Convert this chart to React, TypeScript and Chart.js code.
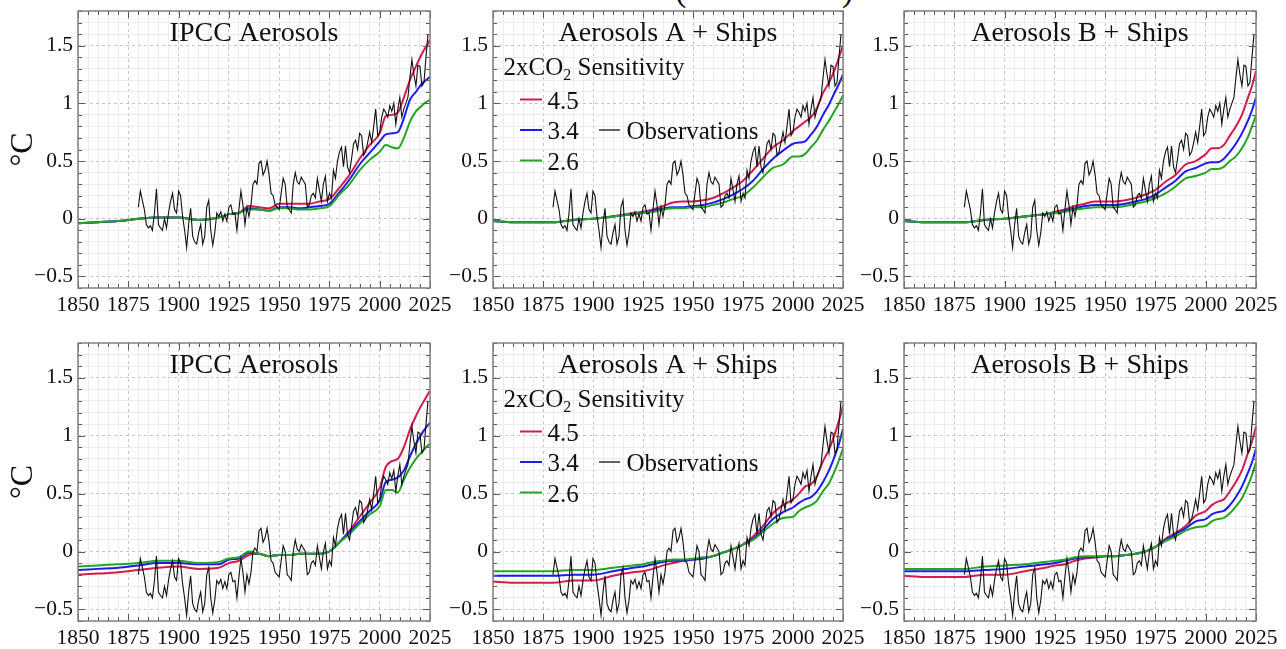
import React, { useEffect, useRef } from 'react';
import { Chart, registerables } from 'chart.js';

Chart.register(...registerables);

// ---------------- DATA ----------------
const OBS_START_YEAR = 1880;
// Observed temperature anomaly (°C), top-row baseline, one value per year 1880..2024
const OBS_TOP = [
  0.10, 0.24, 0.16, 0.08, -0.05, -0.08, -0.06, -0.10, 0.05, 0.26,
  -0.05, -0.08, -0.10, 0.00, -0.08, 0.05, 0.15, 0.22, 0.08, 0.05,
  0.24, 0.20, 0.02, -0.10, -0.25, -0.05, 0.09, -0.15, -0.20, -0.22,
  -0.12, -0.05, -0.22, -0.15, 0.10, 0.16, -0.10, -0.23, -0.12, 0.05,
  0.02, 0.06, -0.02, 0.04, -0.02, 0.10, 0.12, 0.04, 0.05, -0.10,
  0.08, 0.24, 0.12, -0.05, 0.10, 0.02, 0.12, 0.30, 0.33, 0.30,
  0.48, 0.50, 0.38, 0.42, 0.50, 0.38, 0.22, 0.20, 0.12, 0.10,
  0.08, 0.22, 0.35, 0.30, 0.10, 0.08, 0.05, 0.30, 0.40, 0.32,
  0.30, 0.36, 0.33, 0.30, 0.10, 0.12, 0.20, 0.22, 0.18, 0.35,
  0.25, 0.15, 0.30, 0.37, 0.15, 0.22, 0.18, 0.42, 0.35, 0.50,
  0.58, 0.62, 0.45, 0.63, 0.45, 0.40, 0.52, 0.65, 0.68, 0.60,
  0.74, 0.72, 0.55, 0.58, 0.66, 0.75, 0.66, 0.80, 0.95, 0.72,
  0.75, 0.88, 0.95, 0.92, 0.88, 0.98, 0.93, 1.00, 0.82, 0.95,
  1.05, 0.88, 0.95, 1.00, 1.05, 1.22, 1.38, 1.25, 1.15, 1.33,
  1.32, 1.15, 1.18, 1.40, 1.60,
];
// bottom row uses a baseline lower by 0.3 °C
const OBS_BOTTOM_SHIFT = -0.3;

const MODEL_YEARS = [1850, 1860, 1870, 1880, 1890, 1900, 1910, 1920, 1925, 1930, 1935, 1940, 1945, 1950, 1955, 1960, 1965, 1970, 1975, 1980, 1985, 1990, 1995, 2000, 2003, 2006, 2009, 2012, 2015, 2018, 2021, 2023, 2025];

// Top row
const IPCC_TOP_45 = [-0.04, -0.03, -0.02, 0.0, 0.01, 0.01, -0.01, 0.01, 0.04, 0.05, 0.11, 0.10, 0.09, 0.13, 0.13, 0.13, 0.13, 0.15, 0.17, 0.27, 0.38, 0.52, 0.64, 0.74, 0.89, 0.90, 0.92, 1.05, 1.20, 1.32, 1.43, 1.49, 1.55];
const IPCC_TOP_34 = [-0.04, -0.03, -0.02, 0.0, 0.01, 0.01, -0.01, 0.01, 0.04, 0.05, 0.09, 0.08, 0.07, 0.10, 0.10, 0.09, 0.10, 0.11, 0.13, 0.23, 0.34, 0.47, 0.57, 0.67, 0.73, 0.74, 0.75, 0.87, 1.03, 1.10, 1.17, 1.20, 1.23];
const IPCC_TOP_26 = [-0.04, -0.03, -0.02, 0.0, 0.01, 0.01, -0.01, 0.01, 0.04, 0.05, 0.08, 0.08, 0.07, 0.09, 0.09, 0.08, 0.08, 0.09, 0.11, 0.21, 0.30, 0.42, 0.51, 0.58, 0.64, 0.62, 0.61, 0.70, 0.84, 0.93, 0.98, 1.01, 1.03];
const A_TOP_45 = [-0.02, -0.03, -0.03, -0.03, -0.01, 0.0, 0.02, 0.05, 0.06, 0.08, 0.11, 0.14, 0.15, 0.15, 0.16, 0.18, 0.22, 0.27, 0.33, 0.42, 0.52, 0.62, 0.68, 0.76, 0.80, 0.84, 0.88, 0.96, 1.09, 1.18, 1.30, 1.40, 1.50];
const A_TOP_34 = [-0.02, -0.03, -0.03, -0.03, -0.01, 0.0, 0.02, 0.04, 0.05, 0.07, 0.09, 0.10, 0.10, 0.11, 0.12, 0.14, 0.17, 0.21, 0.26, 0.33, 0.43, 0.52, 0.59, 0.65, 0.66, 0.67, 0.73, 0.80, 0.90, 0.99, 1.10, 1.17, 1.25];
const A_TOP_26 = [-0.02, -0.03, -0.03, -0.03, -0.01, 0.0, 0.02, 0.04, 0.05, 0.06, 0.08, 0.09, 0.09, 0.10, 0.10, 0.12, 0.14, 0.17, 0.20, 0.27, 0.36, 0.44, 0.47, 0.54, 0.54, 0.56, 0.62, 0.68, 0.77, 0.85, 0.94, 1.00, 1.07];
const B_TOP_45 = [-0.02, -0.03, -0.03, -0.03, -0.01, 0.0, 0.02, 0.04, 0.06, 0.08, 0.11, 0.13, 0.15, 0.15, 0.15, 0.16, 0.18, 0.21, 0.25, 0.32, 0.38, 0.47, 0.50, 0.56, 0.61, 0.61, 0.64, 0.72, 0.80, 0.90, 1.05, 1.15, 1.28];
const B_TOP_34 = [-0.02, -0.03, -0.03, -0.03, -0.01, 0.0, 0.02, 0.04, 0.05, 0.07, 0.09, 0.11, 0.12, 0.12, 0.12, 0.13, 0.15, 0.17, 0.21, 0.27, 0.33, 0.41, 0.44, 0.48, 0.49, 0.49, 0.52, 0.58, 0.65, 0.74, 0.85, 0.94, 1.05];
const B_TOP_26 = [-0.02, -0.03, -0.03, -0.03, -0.01, 0.0, 0.02, 0.04, 0.05, 0.06, 0.08, 0.09, 0.10, 0.10, 0.10, 0.11, 0.13, 0.15, 0.18, 0.22, 0.28, 0.35, 0.37, 0.40, 0.43, 0.43, 0.45, 0.50, 0.54, 0.61, 0.71, 0.80, 0.90];

// Bottom row
const IPCC_BOT_45 = [-0.20, -0.19, -0.18, -0.16, -0.14, -0.13, -0.15, -0.14, -0.10, -0.08, -0.03, -0.02, -0.04, -0.03, -0.03, -0.02, -0.02, -0.02, 0.00, 0.08, 0.18, 0.30, 0.42, 0.55, 0.73, 0.78, 0.80, 0.90, 1.05, 1.17, 1.27, 1.33, 1.39];
const IPCC_BOT_34 = [-0.16, -0.15, -0.14, -0.12, -0.10, -0.10, -0.11, -0.11, -0.07, -0.06, -0.01, -0.02, -0.04, -0.03, -0.03, -0.02, -0.02, -0.02, 0.00, 0.08, 0.17, 0.26, 0.35, 0.44, 0.60, 0.62, 0.64, 0.70, 0.82, 0.93, 1.02, 1.07, 1.11];
const IPCC_BOT_26 = [-0.13, -0.12, -0.11, -0.10, -0.08, -0.08, -0.10, -0.09, -0.06, -0.05, 0.00, -0.02, -0.04, -0.03, -0.03, -0.02, -0.02, -0.02, 0.00, 0.08, 0.15, 0.24, 0.32, 0.39, 0.53, 0.53, 0.51, 0.62, 0.72, 0.80, 0.86, 0.90, 0.93];
const A_BOT_45 = [-0.26, -0.27, -0.27, -0.27, -0.25, -0.25, -0.21, -0.18, -0.17, -0.15, -0.12, -0.10, -0.08, -0.07, -0.06, -0.04, -0.01, 0.02, 0.06, 0.13, 0.22, 0.33, 0.40, 0.45, 0.50, 0.56, 0.58, 0.65, 0.78, 0.88, 1.02, 1.13, 1.26];
const A_BOT_34 = [-0.21, -0.21, -0.21, -0.21, -0.20, -0.20, -0.17, -0.14, -0.13, -0.11, -0.09, -0.08, -0.08, -0.07, -0.06, -0.04, -0.01, 0.02, 0.06, 0.11, 0.19, 0.28, 0.34, 0.38, 0.42, 0.45, 0.47, 0.52, 0.60, 0.70, 0.83, 0.93, 1.06];
const A_BOT_26 = [-0.17, -0.17, -0.17, -0.17, -0.16, -0.16, -0.14, -0.12, -0.11, -0.09, -0.08, -0.07, -0.07, -0.06, -0.05, -0.04, -0.01, 0.02, 0.06, 0.10, 0.17, 0.24, 0.29, 0.30, 0.35, 0.38, 0.40, 0.44, 0.52, 0.59, 0.70, 0.79, 0.89];
const B_BOT_45 = [-0.21, -0.22, -0.22, -0.22, -0.20, -0.20, -0.17, -0.14, -0.12, -0.11, -0.08, -0.06, -0.05, -0.04, -0.04, -0.03, -0.02, 0.00, 0.04, 0.11, 0.16, 0.22, 0.31, 0.35, 0.40, 0.43, 0.45, 0.52, 0.60, 0.70, 0.85, 0.95, 1.08];
const B_BOT_34 = [-0.17, -0.17, -0.17, -0.17, -0.16, -0.15, -0.13, -0.11, -0.10, -0.08, -0.06, -0.05, -0.05, -0.04, -0.04, -0.03, -0.02, 0.00, 0.04, 0.10, 0.15, 0.20, 0.26, 0.28, 0.32, 0.34, 0.35, 0.40, 0.47, 0.56, 0.68, 0.77, 0.89];
const B_BOT_26 = [-0.15, -0.15, -0.15, -0.15, -0.13, -0.12, -0.11, -0.09, -0.08, -0.07, -0.05, -0.04, -0.04, -0.04, -0.04, -0.03, -0.02, 0.00, 0.04, 0.09, 0.13, 0.18, 0.21, 0.22, 0.26, 0.28, 0.29, 0.33, 0.39, 0.46, 0.57, 0.66, 0.77];

const X_TICK_LABEL_YEARS = [1850, 1875, 1900, 1925, 1950, 1975, 2000, 2025];
const Y_TICK_VALUES = [-0.5, 0, 0.5, 1, 1.5];
const Y_TICK_LABELS = ['\u22120.5', '0', '0.5', '1', '1.5'];
const PANEL_TITLES = ['IPCC Aerosols', 'Aerosols A + Ships', 'Aerosols B + Ships'];
const SENSITIVITY_LABELS = ['4.5', '3.4', '2.6'];
const OBS_LABEL = 'Observations';
const Y_TITLE = '°C';

// ---------------- STYLE / LAYOUT ----------------
const COLORS = { s45: '#d41c4c', s34: '#1c1cf0', s26: '#24a524', obs: '#111111' };
const FONT = '"Liberation Serif", "Times New Roman", serif';
const PLOT_LEFT = [78, 493, 904];
const PLOT_RIGHT = [430, 843, 1256];
const PLOT_TOP = [11, 343];
const PLOT_BOTTOM = [288, 621];
const Y_AXIS_W = 78;
const X_AXIS_H = 40;
const PAD_TOP = 11;
const PAD_RIGHT = 34;

const X_MIN = 1850, X_MAX = 2025, Y_MIN = -0.6, Y_MAX = 1.8;

const PANELS = [
  { row: 0, col: 0, s45: IPCC_TOP_45, s34: IPCC_TOP_34, s26: IPCC_TOP_26 },
  { row: 0, col: 1, s45: A_TOP_45, s34: A_TOP_34, s26: A_TOP_26 },
  { row: 0, col: 2, s45: B_TOP_45, s34: B_TOP_34, s26: B_TOP_26 },
  { row: 1, col: 0, s45: IPCC_BOT_45, s34: IPCC_BOT_34, s26: IPCC_BOT_26 },
  { row: 1, col: 1, s45: A_BOT_45, s34: A_BOT_34, s26: A_BOT_26 },
  { row: 1, col: 2, s45: B_BOT_45, s34: B_BOT_34, s26: B_BOT_26 },
];

const xGrid: number[] = [];
for (let v = X_MIN; v <= X_MAX; v += 5) xGrid.push(v);
const yGrid: number[] = [];
for (let i = -5; i <= 17; i++) yGrid.push(i / 10);

const isMajorX = (v: number) => (v - X_MIN) % 25 === 0;
const isMajorY = (v: number) => Math.abs(Math.round(v * 10) % 5) === 0;

const decorPlugin = {
  id: 'panelDecor',
  afterDraw(chart: any, _args: any, opts: any) {
    const { ctx, chartArea: ca } = chart;
    const xs = chart.scales.x;
    const ys = chart.scales.y;
    ctx.save();
    // inward ticks on all 4 sides
    ctx.strokeStyle = '#5a5a5a';
    ctx.lineWidth = 1;
    ctx.beginPath();
    for (const v of xGrid) {
      const px = Math.round(xs.getPixelForValue(v)) + 0.5;
      const len = isMajorX(v) ? 7 : 4;
      ctx.moveTo(px, ca.bottom); ctx.lineTo(px, ca.bottom - len);
      ctx.moveTo(px, ca.top); ctx.lineTo(px, ca.top + len);
    }
    for (let i = -6; i <= 18; i++) {
      const py = Math.round(ys.getPixelForValue(i / 10)) + 0.5;
      const len = i % 5 === 0 ? 7 : 4;
      ctx.moveTo(ca.left, py); ctx.lineTo(ca.left + len, py);
      ctx.moveTo(ca.right, py); ctx.lineTo(ca.right - len, py);
    }
    ctx.stroke();
    // frame
    ctx.strokeStyle = '#808080';
    ctx.lineWidth = 1.5;
    ctx.strokeRect(ca.left, ca.top, ca.right - ca.left, ca.bottom - ca.top);
    // title
    ctx.fillStyle = '#111';
    ctx.textBaseline = 'alphabetic';
    ctx.textAlign = 'center';
    ctx.font = `28px ${FONT}`;
    ctx.fillText(opts.title, (ca.left + ca.right) / 2, ca.top + 30);
    // legend
    if (opts.legend) {
      ctx.textAlign = 'left';
      let x = ca.left + 10.5;
      const by = ca.top + 63.5;
      ctx.font = `25px ${FONT}`;
      ctx.fillText('2xCO', x, by);
      x += ctx.measureText('2xCO').width;
      ctx.font = `16px ${FONT}`;
      ctx.fillText('2', x, by + 5);
      x += ctx.measureText('2').width;
      ctx.font = `25px ${FONT}`;
      ctx.fillText(' Sensitivity', x, by);
      const rows = [
        { c: COLORS.s45, t: SENSITIVITY_LABELS[0], ly: 88.5, ty: 98 },
        { c: COLORS.s34, t: SENSITIVITY_LABELS[1], ly: 119, ty: 127.5 },
        { c: COLORS.s26, t: SENSITIVITY_LABELS[2], ly: 149.5, ty: 159 },
      ];
      for (const r of rows) {
        ctx.strokeStyle = r.c;
        ctx.lineWidth = 2;
        ctx.beginPath();
        ctx.moveTo(ca.left + 27, ca.top + r.ly);
        ctx.lineTo(ca.left + 49, ca.top + r.ly);
        ctx.stroke();
        ctx.fillStyle = '#111';
        ctx.fillText(r.t, ca.left + 54.5, ca.top + r.ty);
      }
      ctx.strokeStyle = COLORS.obs;
      ctx.lineWidth = 1.3;
      ctx.beginPath();
      ctx.moveTo(ca.left + 106, ca.top + 119);
      ctx.lineTo(ca.left + 127, ca.top + 119);
      ctx.stroke();
      ctx.fillText(OBS_LABEL, ca.left + 133.5, ca.top + 127.5);
    }
    ctx.restore();
  },
};

function Panel({ cfg }: { cfg: any }) {
  const ref = useRef<HTMLCanvasElement | null>(null);
  const plotW = PLOT_RIGHT[cfg.col] - PLOT_LEFT[cfg.col];
  const plotH = PLOT_BOTTOM[cfg.row] - PLOT_TOP[cfg.row];
  const left = PLOT_LEFT[cfg.col] - Y_AXIS_W;
  const top = PLOT_TOP[cfg.row] - PAD_TOP;
  const width = plotW + Y_AXIS_W + PAD_RIGHT;
  const height = plotH + PAD_TOP + X_AXIS_H;

  useEffect(() => {
    if (!ref.current) return;
    const shift = cfg.row === 1 ? OBS_BOTTOM_SHIFT : 0;
    const obsData = OBS_TOP.map((v, i) => ({ x: OBS_START_YEAR + i, y: v + shift }));
    const model = (arr: number[]) => MODEL_YEARS.map((yr, i) => ({ x: yr, y: arr[i] }));
    const modelStyle = (color: string) => ({
      borderColor: color,
      backgroundColor: color,
      borderWidth: 2,
      pointRadius: 0,
      cubicInterpolationMode: 'monotone' as const,
      fill: false,
    });
    const gridColor = (ctx: any, major: (v: number) => boolean) =>
      ctx.tick && major(ctx.tick.value) ? '#c6c6c6' : '#ececec';
    const gridDash = (ctx: any, major: (v: number) => boolean) =>
      ctx.tick && major(ctx.tick.value) ? [3, 3] : [];

    const chart = new Chart(ref.current, {
      type: 'line',
      data: {
        datasets: [
          { label: OBS_LABEL, data: obsData, borderColor: COLORS.obs, backgroundColor: COLORS.obs, borderWidth: 1.1, pointRadius: 0, tension: 0 },
          { label: SENSITIVITY_LABELS[2], data: model(cfg.s26), ...modelStyle(COLORS.s26) },
          { label: SENSITIVITY_LABELS[1], data: model(cfg.s34), ...modelStyle(COLORS.s34) },
          { label: SENSITIVITY_LABELS[0], data: model(cfg.s45), ...modelStyle(COLORS.s45) },
        ] as any,
      },
      options: {
        responsive: false,
        animation: false,
        events: [],
        layout: { padding: { left: 0, top: PAD_TOP, right: PAD_RIGHT, bottom: 0 } },
        plugins: {
          legend: { display: false },
          tooltip: { enabled: false },
          panelDecor: { title: PANEL_TITLES[cfg.col], legend: cfg.col === 1 },
        } as any,
        scales: {
          x: {
            type: 'linear',
            min: X_MIN,
            max: X_MAX,
            afterBuildTicks: (s: any) => { s.ticks = xGrid.map((v) => ({ value: v })); },
            afterFit: (s: any) => { s.height = X_AXIS_H; s.paddingLeft = 0; s.paddingRight = 0; },
            ticks: {
              autoSkip: false,
              maxRotation: 0,
              minRotation: 0,
              padding: 4,
              color: '#111',
              font: { family: FONT, size: 21.5 },
              callback: (v: any) => (X_TICK_LABEL_YEARS.includes(v) ? String(v) : ''),
            },
            grid: { color: (c: any) => gridColor(c, isMajorX), lineWidth: 1, drawTicks: false },
            border: { display: false, dash: (c: any) => gridDash(c, isMajorX) },
          },
          y: {
            type: 'linear',
            min: Y_MIN,
            max: Y_MAX,
            afterBuildTicks: (s: any) => { s.ticks = yGrid.map((v) => ({ value: v })); },
            afterFit: (s: any) => { s.width = Y_AXIS_W; s.paddingTop = 0; s.paddingBottom = 0; },
            ticks: {
              autoSkip: false,
              padding: 5,
              color: '#111',
              font: { family: FONT, size: 21.5 },
              callback: (v: any) => {
                const idx = Y_TICK_VALUES.findIndex((t) => Math.abs(t - v) < 1e-9);
                return idx >= 0 ? Y_TICK_LABELS[idx] : '';
              },
            },
            grid: { color: (c: any) => gridColor(c, isMajorY), lineWidth: 1, drawTicks: false },
            border: { display: false, dash: (c: any) => gridDash(c, isMajorY) },
            title: {
              display: cfg.col === 0,
              text: Y_TITLE,
              color: '#111',
              font: { family: FONT, size: 32 },
              padding: { top: 4, bottom: 0 },
            },
          },
        },
      } as any,
      plugins: [decorPlugin as any],
    });
    return () => chart.destroy();
  }, []);

  return (
    <canvas
      ref={ref}
      width={width}
      height={height}
      style={{ position: 'absolute', left, top, width, height }}
    />
  );
}

export default function App() {
  return (
    <div style={{ position: 'absolute', left: 0, top: 0, width: 1286, height: 649, background: '#fff', overflow: 'hidden' }}>
      <span style={{ position: 'absolute', left: 675, top: -27.5, fontFamily: FONT, fontSize: 34, lineHeight: '34px', color: '#111' }}>(</span>
      <span style={{ position: 'absolute', left: 842, top: -27.5, fontFamily: FONT, fontSize: 34, lineHeight: '34px', color: '#111' }}>)</span>
      {PANELS.map((p, i) => (
        <Panel key={i} cfg={p} />
      ))}
    </div>
  );
}
